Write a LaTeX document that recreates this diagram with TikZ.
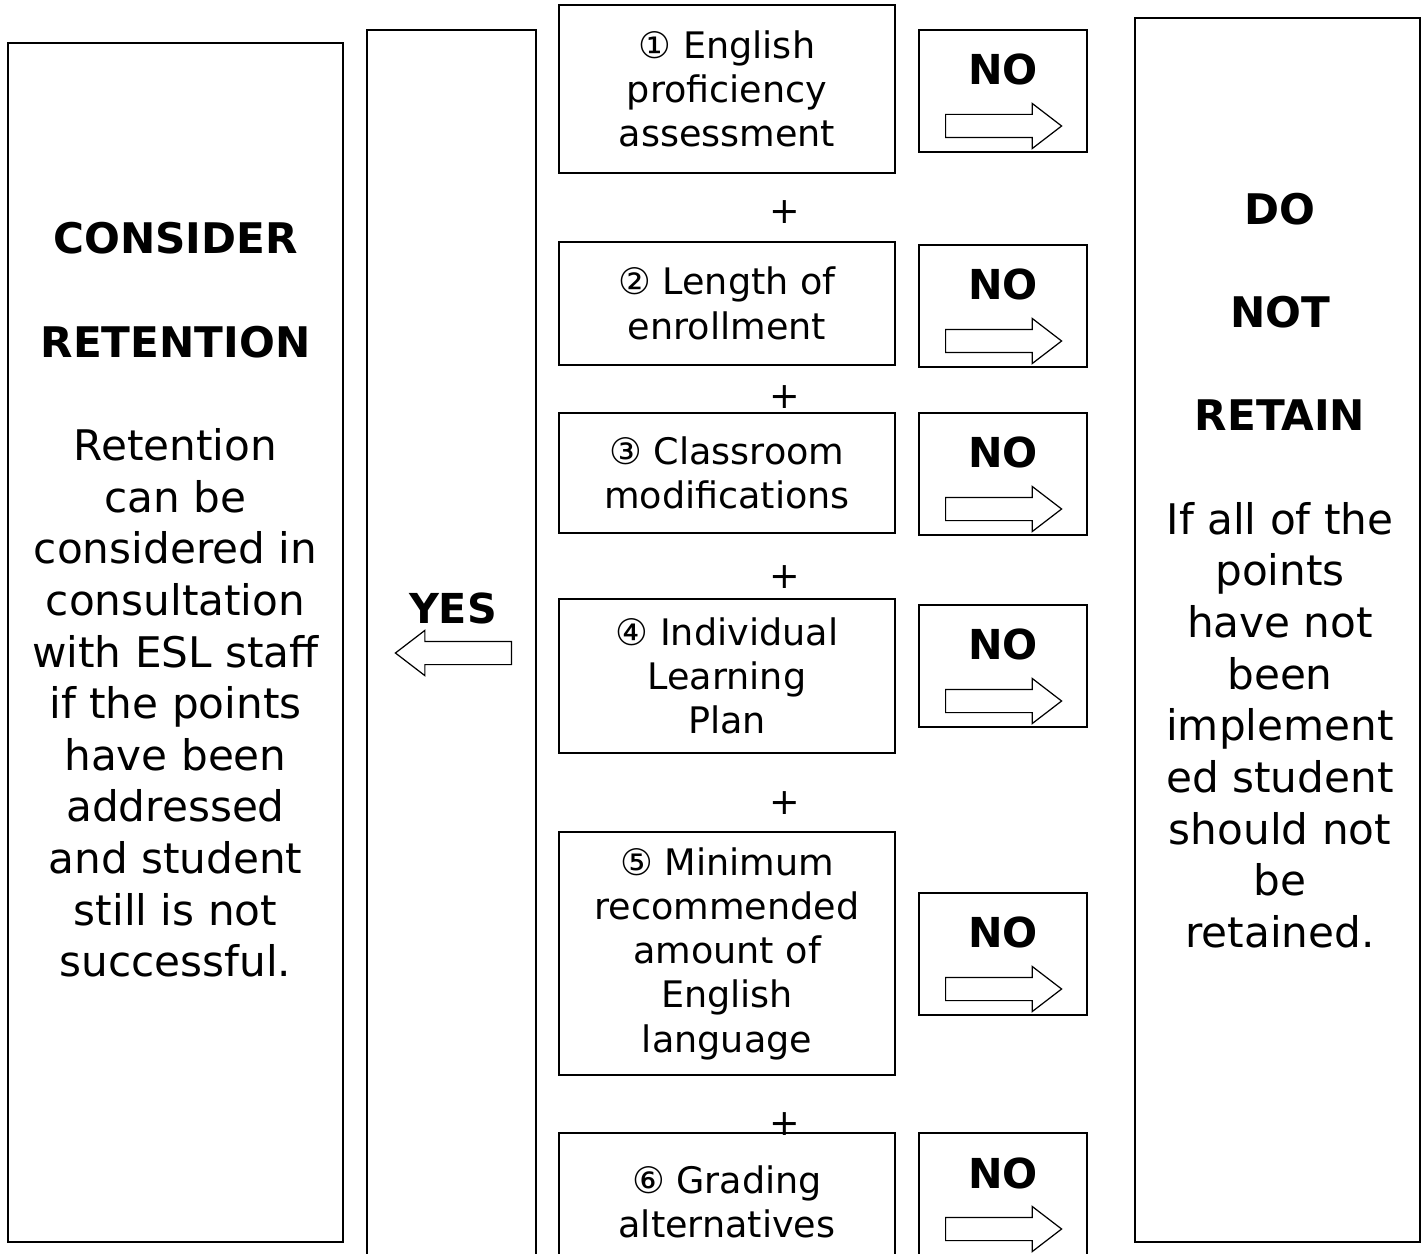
\documentclass[tikz,border=0pt]{standalone}
\usepackage{fontspec}
\setmainfont{DejaVu Sans}
\usetikzlibrary{shapes.arrows}

\begin{document}
\begin{tikzpicture}[x=0.02cm,y=-0.02cm,
    box/.style={draw, line width=1.1pt, inner sep=0pt},
    crit/.style={box, minimum width=6.72cm, align=center, font=\fontsize{20.8}{25.2}\selectfont},
    nobox/.style={box, minimum width=3.36cm, minimum height=2.44cm},
    big/.style={align=center, font=\fontsize{24}{29.4}\selectfont},
    yesno/.style={font=\fontsize{23.5}{28}\selectfont\bfseries},
    blockarrow/.style={single arrow, draw, line width=0.7pt, inner sep=0pt, text height=0.44cm, text depth=0pt,
        minimum height=2.32cm, single arrow head extend=0.22cm, single arrow tip angle=75},
    plus/.style={font=\fontsize{20.8}{25.2}\selectfont}]

    \useasboundingbox (0,0) rectangle (1425,1253);

    % outer columns
    \node[box, minimum width=6.7cm, minimum height=23.98cm] (consider) at (175.5,642.5) {};
    \node[box, minimum width=3.38cm, minimum height=24.8cm] (yescol) at (451.5,650) {};
    \node[box, minimum width=5.7cm, minimum height=24.48cm] (retain) at (1277.5,630) {};

    \node[big] (considertxt) at (175.5,600) {\textbf{CONSIDER}\\[29.4pt]\textbf{RETENTION}\\[29.4pt]
        Retention\\can be\\considered in\\consultation\\with ESL staff\\if the points\\have been\\addressed\\and student\\still is not\\successful.};
    \node[big] (retaintxt) at (1280,570.5) {\textbf{DO}\\[29.4pt]\textbf{NOT}\\[29.4pt]\textbf{RETAIN}\\[29.4pt]
        If all of the\\points\\have not\\been\\implement\\ed student\\should not\\be\\retained.};

    \node[yesno] (yes) at (453,608) {YES};
    \node[blockarrow, shape border rotate=180, anchor=tail] (yesarrow) at (512,653) {};

    % criteria
    \node[crit, minimum height=3.36cm] (c1) at (727,89) {① English\\proficiency\\assessment};
    \node[crit, minimum height=2.46cm] (c2) at (727,303.5) {② Length of\\enrollment};
    \node[crit, minimum height=2.4cm] (c3) at (727,473) {③ Classroom\\modifications};
    \node[crit, minimum height=3.08cm] (c4) at (727,676) {④ Individual\\Learning\\Plan};
    \node[crit, minimum height=4.86cm] (c5) at (727,953.5) {⑤ Minimum\\recommended\\amount of\\English\\language};
    \node[crit, minimum height=2.74cm] (c6) at (727,1201.5) {⑥ Grading\\alternatives};

    \node[plus] (p1) at (785,212) {+};
    \node[plus] (p2) at (785,397) {+};
    \node[plus] (p3) at (785,577) {+};
    \node[plus] (p4) at (785,803) {+};
    \node[plus] (p5) at (785,1124) {+};

    % NO boxes
    \node[nobox] (n1) at (1003,91) {};
    \node[nobox] (n2) at (1003,306) {};
    \node[nobox] (n3) at (1003,474) {};
    \node[nobox] (n4) at (1003,666) {};
    \node[nobox] (n5) at (1003,954) {};
    \node[nobox, minimum height=2.74cm] (n6) at (1003,1201.5) {};

    \node[yesno] (no1) at (1003,69) {NO};
    \node[yesno] (no2) at (1003,284) {NO};
    \node[yesno] (no3) at (1003,452) {NO};
    \node[yesno] (no4) at (1003,644) {NO};
    \node[yesno] (no5) at (1003,932) {NO};
    \node[yesno] (no6) at (1003,1173) {NO};

    \node[blockarrow, anchor=tail] (a1) at (945,126) {};
    \node[blockarrow, anchor=tail] (a2) at (945,341) {};
    \node[blockarrow, anchor=tail] (a3) at (945,509) {};
    \node[blockarrow, anchor=tail] (a4) at (945,701) {};
    \node[blockarrow, anchor=tail] (a5) at (945,989) {};
    \node[blockarrow, anchor=tail] (a6) at (945,1229) {};

\end{tikzpicture}
\end{document}
